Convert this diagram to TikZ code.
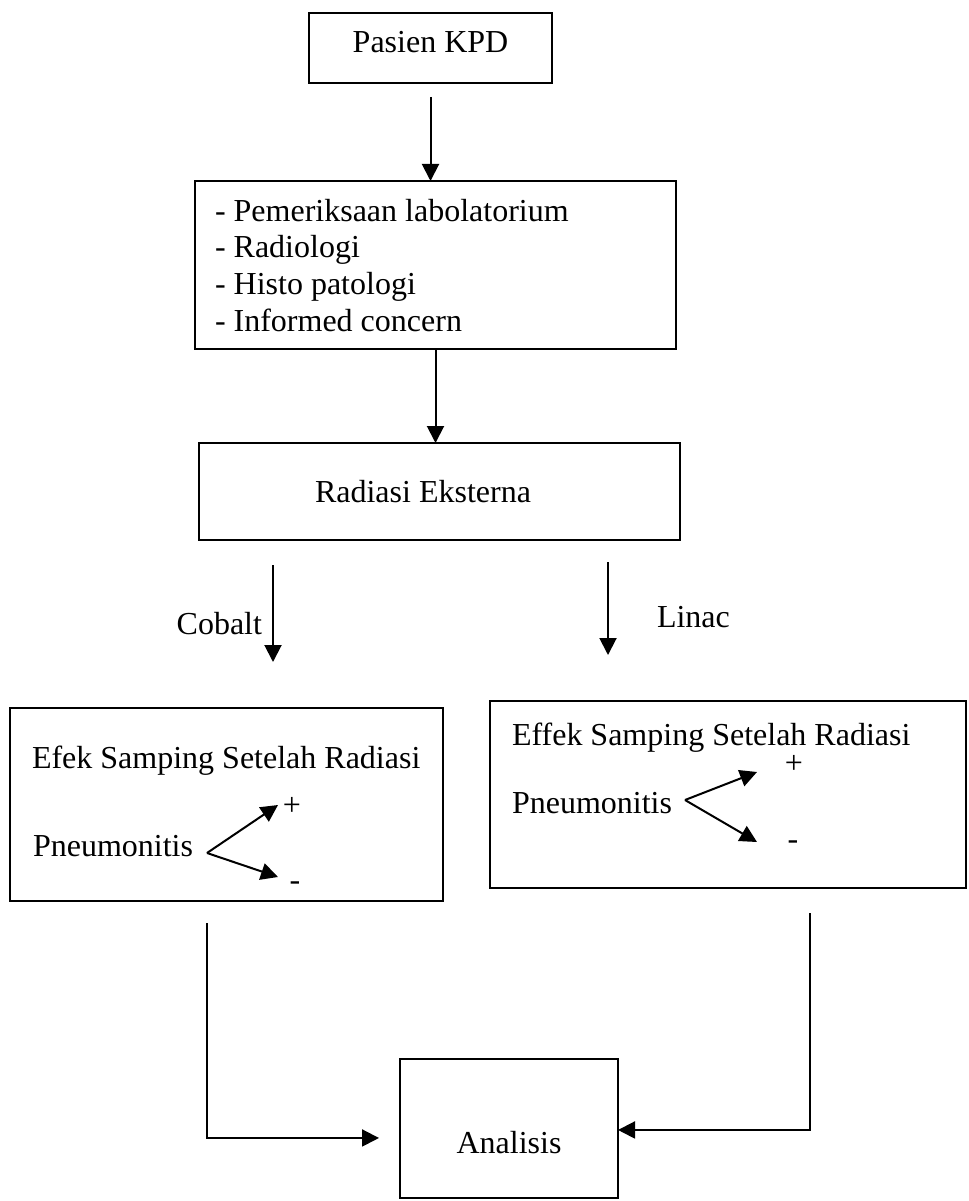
\documentclass[tikz,border=0pt]{standalone}
\usepackage{fontspec}
\setmainfont{Liberation Serif}
\usetikzlibrary{arrows.meta,calc}
\begin{document}
\begin{tikzpicture}[x=0.75pt,y=-0.75pt,
  box/.style={draw, line width=1.8pt, inner sep=0pt, outer sep=0pt},
  txt/.style={inner sep=0pt, outer sep=0pt, font=\fontsize{24pt}{27.5pt}\selectfont},
  arr/.style={line width=1.5pt, -{Triangle[width=12.75pt,length=12.75pt]}},
]
\fill[white] (0,0) rectangle (969,1201);
\useasboundingbox (0,0) rectangle (969,1201);

% boxes
\node[box, minimum width=182.25pt, minimum height=52.5pt] (pasien) at (430.5,48) {};
\node[box, minimum width=360.75pt, minimum height=126pt] (list) at (435.5,265) {};
\node[box, minimum width=360.75pt, minimum height=72.75pt] (rad) at (439.5,491.5) {};
\node[box, minimum width=324.75pt, minimum height=144.75pt] (efL) at (226.5,804.5) {};
\node[box, minimum width=357pt, minimum height=140.25pt] (efR) at (728,794.5) {};
\node[box, minimum width=163.5pt, minimum height=104.25pt] (ana) at (509,1128.5) {};

% texts
\node[txt, anchor=base] (tpasien) at (430.5,53) {Pasien KPD};
\node[txt, anchor=base west] (l1) at (215,222) {- Pemeriksaan labolatorium};
\node[txt, anchor=base west] (l2) at (215,258) {- Radiologi};
\node[txt, anchor=base west] (l3) at (215,295) {- Histo patologi};
\node[txt, anchor=base west] (l4) at (215,332) {- Informed concern};
\node[txt, anchor=base west] (trad) at (315,502) {Radiasi Eksterna};
\node[txt, anchor=base east] (tcob) at (262,634) {Cobalt};
\node[txt, anchor=base west] (tlin) at (657,627) {Linac};
\node[txt, anchor=base west] (efLt) at (32,768) {Efek Samping Setelah Radiasi};
\node[txt, anchor=base west] (pnL) at (33,856) {Pneumonitis};
\node[txt, anchor=base] (plL) at (292,815) {+};
\node[txt, anchor=base] (miL) at (295,890) {-};
\node[txt, anchor=base west] (efRt) at (512,745) {Effek Samping Setelah Radiasi};
\node[txt, anchor=base west] (pnR) at (512,813) {Pneumonitis};
\node[txt, anchor=base] (plR) at (794,773) {+};
\node[txt, anchor=base] (miR) at (793,849) {-};
\node[txt, anchor=base] (tana) at (509,1153) {Analisis};

% helper coordinates
\coordinate (cobx) at (273,0);
\coordinate (linx) at (608,0);
\coordinate (lx) at (207,0);
\coordinate (rx) at (810,0);
\coordinate (lv) at (207,853);
\coordinate (lp) at (278,805);
\coordinate (lm) at (278,877);
\coordinate (rv) at (685,800);
\coordinate (rp) at (757,772);
\coordinate (rm) at (757,842);

% connectors
\draw[arr, shorten <=10.5pt] (pasien.south) -- (pasien.south |- list.north);
\draw[arr] (list.south) -- (list.south |- rad.north);
\draw[arr, shorten <=18.75pt, shorten >=34.5pt] (rad.south -| cobx) -- (efL.north -| cobx);
\draw[arr, shorten <=16.5pt, shorten >=34.5pt] (rad.south -| linx) -- (efR.north -| linx);
\draw[arr] (lv) -- (lp);
\draw[arr] (lv) -- (lm);
\draw[arr] (rv) -- (rp);
\draw[arr] (rv) -- (rm);
\draw[arr, shorten <=16.5pt, shorten >=15.75pt] (efL.south -| lx) |- ([yshift=-7.1pt]ana.west);
\draw[arr, shorten <=18.75pt] (efR.south -| rx) |- ([yshift=-1.1pt]ana.east);
\end{tikzpicture}
\end{document}
